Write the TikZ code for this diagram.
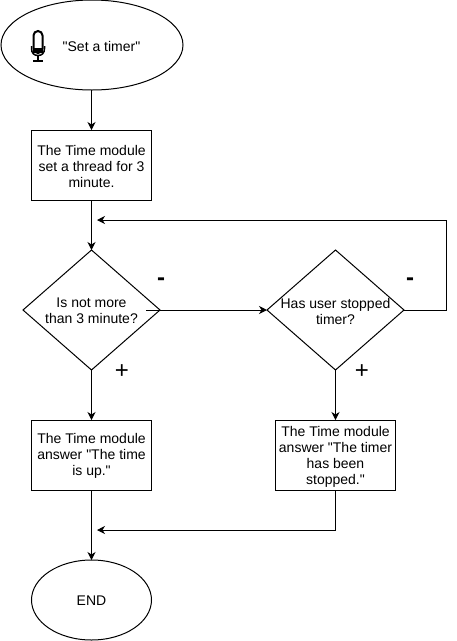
\documentclass[tikz,border=0pt]{standalone}
\usepackage{fontspec}
\newfontfamily\lsans{Liberation Sans}
\usetikzlibrary{shapes.geometric,arrows.meta}
\tikzset{
  base/.style={draw=black,line width=1pt,outer sep=0pt,inner sep=0pt,align=center,font=\lsans\fontsize{14}{16}\selectfont},
  stepbox/.style={base,rectangle,minimum width=120pt,minimum height=70pt},
  term/.style={base,ellipse},
  choice/.style={base,diamond,aspect=1.14,minimum width=137pt,minimum height=120pt},
  txt/.style={align=center,inner sep=0pt,font=\lsans\fontsize{14}{16}\selectfont},
  sign/.style={inner sep=0pt,font=\lsans\fontsize{24}{24}\selectfont\bfseries},
  plus/.style={inner sep=0pt,font=\lsans\fontsize{24}{24}\selectfont},
  flow/.style={draw=black,line width=1pt,-{Stealth[length=8pt,width=8pt,inset=2.5pt]}}
}
\begin{document}
\begin{tikzpicture}[x=1pt,y=-1pt]
\useasboundingbox (0,0) rectangle (456,641);
\node[term,minimum width=182pt,minimum height=90pt] (start) at (92,45) {};
\node[txt] (say) at (101.5,46) {"Set a timer"};
\node[stepbox,label={[txt,yshift=-1pt]center:The Time module\\set a thread for 3\\minute.}] (thread) at (91.5,165) {};
\node[choice,label={[txt,yshift=-1pt]center:Is not more\\than 3 minute?}] (check) at (91.5,310) {};
\node[choice,label={[txt,yshift=-1pt]center:Has user stopped\\timer?}] (stop) at (335.5,310) {};
\node[stepbox,label={[txt,yshift=-1pt]center:The Time module\\answer "The time\\is up."}] (up) at (91.5,455) {};
\node[stepbox,label={[txt,yshift=-2pt]center:The Time module\\answer "The timer\\has been\\stopped."}] (stopped) at (335.5,455) {};
\node[term,minimum width=120pt,minimum height=80pt,label={[txt,yshift=-1pt]center:END}] (end) at (91.5,600) {};
\node[sign] (m1) at (161,282) {-};
\node[sign] (m2) at (410,282) {-};
\node[plus] (p1) at (122,371.5) {+};
\node[plus] (p2) at (362,371.5) {+};
\coordinate (loopend) at (97,220);
\coordinate (joinend) at (97,530);
\draw[flow] (start.south -| thread.north) -- (thread.north);
\draw[flow] (thread.south) -- (check.north);
\draw[flow] ([xshift=-14pt]check.east) -- (stop.west);
\draw[flow] (stop.east) -- ++(42,0) |- (loopend);
\draw[flow] (check.south) -- (up.north);
\draw[flow] (stop.south) -- (stopped.north);
\draw[flow] (up.south) -- (end.north);
\draw[flow] (stopped.south) |- (joinend);
% microphone icon
\draw[line width=2pt,rounded corners=4.5pt] (33.5,31) rectangle (42.5,53);
\draw[line width=1.5pt] (31.5,46) -- (31.5,48.5) .. controls (31.5,53) and (34,55.5) .. (38,55.5) .. controls (42,55.5) and (44.5,53) .. (44.5,48.5) -- (44.5,46);
\fill (33,47.5) rectangle (43,53);
\draw[line width=1.1pt] (38,55) -- (38,61);
\draw[line width=1.1pt] (33,61) -- (43,61);
\end{tikzpicture}
\end{document}
